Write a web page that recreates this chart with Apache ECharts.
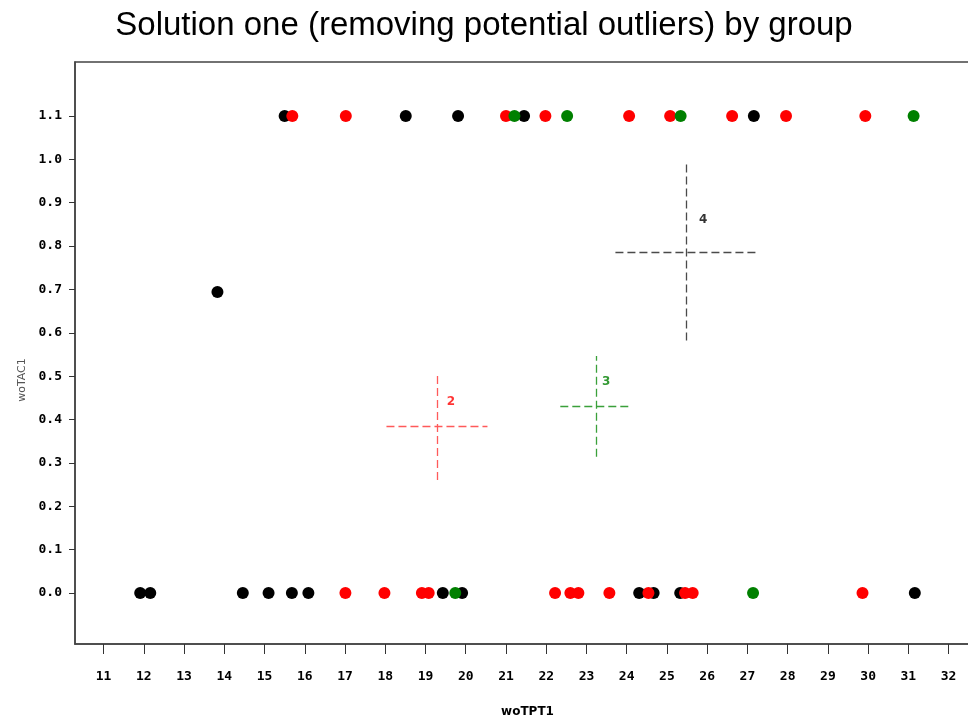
<!DOCTYPE html>
<html>
<head>
<meta charset="utf-8">
<script src="https://cdn.jsdelivr.net/npm/echarts@6/dist/echarts.min.js"></script>
<style>
  html, body { margin: 0; padding: 0; background: #fff; }
  #main { width: 968px; height: 719px; }
</style>
</head>
<body>
<div id="main"></div>
<script>
// axis ticks
var xTicks = [11, 12, 13, 14, 15, 16, 17, 18, 19, 20, 21, 22, 23, 24, 25, 26, 27, 28, 29, 30, 31, 32];
var yTicks = [0, 0.1, 0.2, 0.3, 0.4, 0.5, 0.6, 0.7, 0.8, 0.9, 1.0, 1.1];

// points [woTPT1, woTAC1] by colour
var blackPts = [
    [15.50, 1.1], [18.51, 1.1], [19.81, 1.1], [21.45, 1.1], [27.16, 1.1],
    [13.83, 0.694],
    [11.91, 0], [12.16, 0], [14.46, 0], [15.10, 0], [15.68, 0], [16.09, 0],
    [19.43, 0], [19.91, 0], [24.31, 0], [24.67, 0], [25.33, 0], [31.16, 0]
];
var redPts = [
    [15.69, 1.1], [17.02, 1.1], [21.00, 1.1], [21.98, 1.1], [24.06, 1.1],
    [25.08, 1.1], [26.62, 1.1], [27.96, 1.1], [29.93, 1.1],
    [17.01, 0], [17.98, 0], [18.91, 0], [19.08, 0], [22.22, 0], [22.60, 0],
    [22.80, 0], [23.57, 0], [24.54, 0], [25.45, 0], [25.64, 0], [29.86, 0]
];
var greenPts = [
    [21.21, 1.1], [22.52, 1.1], [25.34, 1.1], [31.13, 1.1],
    [19.74, 0], [27.14, 0]
];

// group crosshairs: name, centre, x range, y range, label position
var crossNames = ['2', '3', '4'];
var crossCenter = [[19.29, 0.3835], [23.24, 0.4297], [25.47, 0.7848]];
var crossXRange = [[18.03, 20.54], [22.35, 24.13], [23.72, 27.22]];
var crossYRange = [[0.2606, 0.505], [0.3143, 0.5466], [0.582, 0.991]];
var crossLabelPos = [[19.63, 0.441], [23.49, 0.486], [25.90, 0.860]];

var crossLineColors = ['#ff5a5a', '#3aa03a', '#4a4a4a'];
var crossTextColors = ['#ff0000', '#008000', '#000000'];

var chart = echarts.init(document.getElementById('main'));

var labelFont = {
    color: '#000',
    fontFamily: 'DejaVu Sans Mono',
    fontWeight: 'bold',
    fontSize: 13
};

var series = [];
var pointSets = [[blackPts, '#000000'], [redPts, '#ff0000'], [greenPts, '#008000']];
pointSets.forEach(function (p) {
    series.push({
        type: 'scatter',
        data: p[0],
        symbol: 'circle',
        symbolSize: 12,
        itemStyle: { color: p[1], opacity: 1 },
        silent: true,
        z: 3
    });
});

for (var i = 0; i < crossNames.length; i++) {
    var c = crossCenter[i];
    series.push({
        type: 'scatter',
        data: [{ value: crossLabelPos[i], name: crossNames[i] }],
        symbolSize: 0,
        silent: true,
        label: {
            show: true,
            position: 'inside',
            formatter: '{b}',
            color: crossTextColors[i],
            fontFamily: 'DejaVu Sans',
            fontWeight: 'bold',
            fontSize: 12
        },
        markLine: {
            silent: true,
            symbol: ['none', 'none'],
            label: { show: false },
            lineStyle: { color: crossLineColors[i], type: [8, 4], width: 1.3 },
            data: [
                [{ coord: [crossXRange[i][0], c[1]] }, { coord: [crossXRange[i][1], c[1]] }],
                [{ coord: [c[0], crossYRange[i][0]] }, { coord: [c[0], crossYRange[i][1]] }]
            ]
        },
        z: 2
    });
}

chart.setOption({
    animation: false,
    backgroundColor: '#fff',
    title: {
        text: 'Solution one (removing potential outliers) by group',
        left: 'center',
        top: 4,
        textStyle: {
            fontFamily: 'Liberation Sans',
            fontWeight: 'normal',
            fontSize: 33,
            color: '#000'
        }
    },
    grid: {
        left: 75,
        top: 62,
        width: 905,
        height: 582,
        show: true,
        borderColor: '#444',
        borderWidth: 1.5,
        outerBoundsMode: 'none',
        containLabel: false
    },
    xAxis: {
        type: 'value',
        min: 10.29,
        max: 32.78,
        name: 'woTPT1',
        nameLocation: 'middle',
        nameGap: 62,
        nameTextStyle: {
            fontFamily: 'DejaVu Sans',
            fontWeight: 'bold',
            fontSize: 12,
            color: '#000'
        },
        splitLine: { show: false },
        axisLine: { show: true, onZero: false, lineStyle: { color: '#444', width: 1.5 } },
        axisTick: {
            show: true,
            length: 10,
            customValues: xTicks,
            lineStyle: { color: '#333' }
        },
        axisLabel: Object.assign({ customValues: xTicks, margin: 26 }, labelFont)
    },
    yAxis: {
        type: 'value',
        min: -0.1176,
        max: 1.2245,
        splitLine: { show: false },
        axisLine: { show: true, onZero: false, lineStyle: { color: '#444', width: 1.5 } },
        axisTick: {
            show: true,
            length: 6,
            customValues: yTicks,
            lineStyle: { color: '#333' }
        },
        axisLabel: Object.assign({
            customValues: yTicks,
            margin: 13,
            formatter: function (v) { return v.toFixed(1); }
        }, labelFont)
    },
    graphic: [{
        type: 'text',
        x: 22,
        y: 380,
        rotation: Math.PI / 2,
        style: {
            text: 'woTAC1',
            fill: '#555',
            font: '11px "DejaVu Sans"',
            textAlign: 'center',
            textVerticalAlign: 'middle'
        }
    }],
    series: series
});
</script>
</body>
</html>
